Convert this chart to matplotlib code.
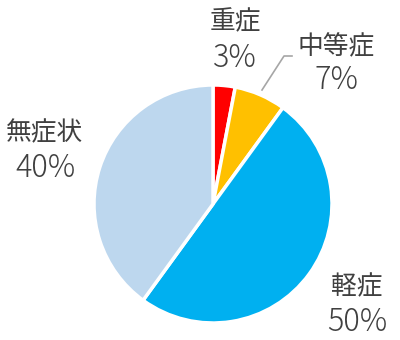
import matplotlib
matplotlib.use("Agg")
import matplotlib.pyplot as plt

plt.rcParams['font.family'] = ['Noto Sans CJK JP', 'DejaVu Sans']

labels = ["重症", "中等症", "軽症", "無症状"]
values = [3, 7, 50, 40]
colors = ["#FF0000", "#FFC000", "#00B0F0", "#BDD7EE"]

W, H = 400, 340
fig = plt.figure(figsize=(W/100, H/100), dpi=100)
ax = fig.add_axes([0, 0, 1, 1])
cx, cy, r = 213, 204, 119

ax.pie(values, colors=colors, startangle=90, counterclock=False, radius=1,
       wedgeprops=dict(edgecolor='white', linewidth=2.5), frame=True)
ax.set_aspect('equal')
ax.set_xlim(-cx/r, (W-cx)/r)
ax.set_ylim(-(H-cy)/r, cy/r)
ax.axis('off')

def P(px, py):
    return ((px - cx)/r, (cy - py)/r)

tc = "#404040"
# (label center, percent center) in pixels
pos = [((235, 22), (235, 58)), ((336, 47), (336, 80)),
       ((357, 287), (357, 322)), ((45, 133), (46, 168))]
for lab, v, (lp, pp) in zip(labels, values, pos):
    x, y = P(*lp)
    ax.text(x, y, lab, ha='center', va='center', fontsize=18.5, color=tc)
    x, y = P(*pp)
    ax.text(x, y, f"{v}%", ha='center', va='center', fontsize=22,
            color=tc, fontweight='light')

# leader line for 中等症
pts = [P(262, 90), P(284, 56), P(292, 56)]
ax.plot([p[0] for p in pts], [p[1] for p in pts], color="#A6A6A6", lw=1.2)

fig.savefig("out.png", dpi=100)
